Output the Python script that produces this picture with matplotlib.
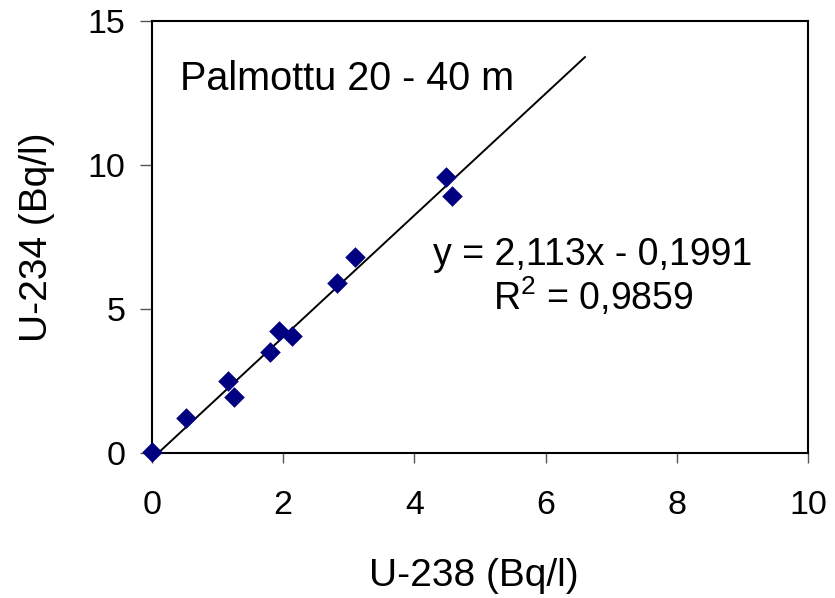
import matplotlib; matplotlib.use('Agg')
import matplotlib.pyplot as plt
import numpy as np

plt.rcParams.update({'font.family': 'Liberation Sans',
                     'mathtext.fontset': 'custom', 'mathtext.rm': 'Liberation Sans'})

# U-238 vs U-234 activity, Palmottu 20-40 m
u238 = [0.0, 0.52, 1.16, 1.25, 1.80, 1.94, 2.13, 2.82, 3.09, 4.48, 4.57]
u234 = [0.03, 1.21, 2.49, 1.94, 3.50, 4.23, 4.05, 5.89, 6.79, 9.59, 8.94]
slope, intercept = 2.113, -0.1991
x_ticks = [0, 2, 4, 6, 8, 10]
y_ticks = [0, 5, 10, 15]

fig = plt.figure(figsize=(8.35, 5.98), dpi=100)
ax = fig.add_axes([152/835, 1 - 453/598, 656/835, 432/598])

xf = np.array([0.0, 6.6])
ax.plot(xf, slope*xf + intercept, color='black', lw=1.4, zorder=2)
ax.scatter(u238, u234, marker='D', s=110, color='#000080', zorder=3, clip_on=False, linewidths=0)

ax.set_xlim(0, 10); ax.set_ylim(0, 15)
ax.set_xticks(x_ticks); ax.set_yticks(y_ticks)
ax.tick_params(direction='out', width=1, labelsize=24.5, color='#555555')
ax.tick_params(axis='x', length=7.5, pad=19)
ax.tick_params(axis='y', length=9, pad=10)
for s in ax.spines.values():
    s.set_linewidth(1.5)

ax.set_xlabel('U-238 (Bq/l)', fontsize=28, va='center')
ax.set_ylabel('U-234 (Bq/l)', fontsize=28, va='center')
ax.xaxis.set_label_coords(0.49, -0.285)
ax.yaxis.set_label_coords(-0.175, 0.5)

ax.text(0.43, 12.6, 'Palmottu 20 - 40 m', fontsize=28.5, va='baseline', ha='left')
ax.text(6.71, 6.53, 'y = 2,113x - 0,1991', fontsize=27, va='baseline', ha='center')
ax.text(6.73, 4.98, 'R$^2$ = 0,9859', fontsize=27, va='baseline', ha='center')

fig.savefig('out.png', dpi=100)
